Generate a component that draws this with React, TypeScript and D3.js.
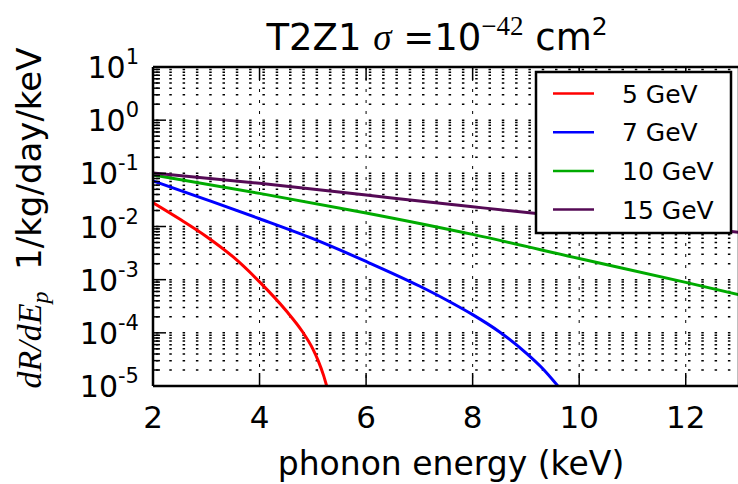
import React from 'react';
import * as d3 from 'd3';

const seriesLabels = ['5 GeV', '7 GeV', '10 GeV', '15 GeV'];
const seriesColors = ['#ff0000', '#0000ff', '#00aa00', '#550a55'];

const x5 = [2, 2.5, 3, 3.5, 4, 4.5, 4.8, 5.0, 5.1, 5.2, 5.26];
const y5 = [2.8e-2, 1.38e-2, 6.5e-3, 2.7e-3, 9.1e-4, 2.6e-4, 1.07e-4, 5.0e-5, 3.0e-5, 1.6e-5, 1.0e-5];

const x7 = [2, 3, 4, 5, 6, 7, 7.5, 8, 8.5, 9, 9.3, 9.6];
const y7 = [7.2e-2, 3.2e-2, 1.4e-2, 5.9e-3, 2.2e-3, 7.6e-4, 4.2e-4, 2.2e-4, 1.05e-4, 4.2e-5, 2.2e-5, 1.0e-5];

const x10 = [2, 4, 6, 8, 10, 12, 13];
const y10 = [9.3e-2, 4.2e-2, 1.8e-2, 7.1e-3, 2.5e-3, 8.9e-4, 5.2e-4];

const x15 = [2, 4, 6, 8, 10, 12, 13];
const y15 = [1.02e-1, 6.5e-2, 3.9e-2, 2.35e-2, 1.45e-2, 9.5e-3, 7.8e-3];

const seriesX = [x5, x7, x10, x15];
const seriesY = [y5, y7, y10, y15];

const xTickValues = [2, 4, 6, 8, 10, 12];
const yTickExponents = [1, 0, -1, -2, -3, -4, -5];

export default function App() {
  const W = 738, H = 484;
  const left = 153, right = 739, top = 67, bottom = 386;
  const x = d3.scaleLinear().domain([2, 13]).range([left, right]);
  const y = d3.scaleLog().domain([1e-5, 10]).range([bottom, top]);

  const minorVals: number[] = [];
  for (let k = -5; k <= 0; k++) {
    for (let m = 1; m <= 9; m++) {
      const v = m * Math.pow(10, k);
      if (k === -5 && m === 1) continue;
      minorVals.push(v);
    }
  }

  const line = d3.line<[number, number]>()
    .x(d => x(d[0]))
    .y(d => y(d[1]))
    .curve(d3.curveMonotoneX);

  const sans = 'DejaVu Sans';
  const serif = 'Liberation Serif';

  return (
    <svg width={W} height={H} style={{ position: 'absolute', left: 0, top: 0, background: '#fff' }}>
      <defs>
        <clipPath id="plotclip">
          <rect x={left} y={top} width={right - left} height={bottom - top} />
        </clipPath>
      </defs>
      <rect x={0} y={0} width={W} height={H} fill="#fff" />

      {/* horizontal dotted grid */}
      <g>
        {minorVals.map((v, i) => (
          <line key={i} x1={left} x2={right} y1={y(v)} y2={y(v)}
            stroke="#000" strokeWidth={1.5} strokeDasharray="2.5 10.8" strokeDashoffset={10.3} />
        ))}
      </g>
      {/* vertical grid */}
      <g>
        {xTickValues.filter(v => v > 2).map(v => (
          <line key={v} x1={x(v)} x2={x(v)} y1={top} y2={bottom}
            stroke="#000" strokeWidth={1} strokeDasharray="3 8" />
        ))}
      </g>

      {/* curves */}
      <g clipPath="url(#plotclip)">
        {seriesX.map((xs, i) => (
          <path key={i} d={line(xs.map((xv, j) => [xv, seriesY[i][j]] as [number, number])) || ''}
            fill="none" stroke={seriesColors[i]} strokeWidth={3} />
        ))}
      </g>

      {/* ticks */}
      <g stroke="#000">
        {xTickValues.map(v => (
          <g key={v}>
            <line x1={x(v)} x2={x(v)} y1={bottom} y2={bottom - 13} strokeWidth={1.5} />
            <line x1={x(v)} x2={x(v)} y1={top} y2={top + 13} strokeWidth={1.5} />
          </g>
        ))}
        {yTickExponents.map(e => (
          <line key={e} x1={left} x2={left + 13} y1={y(Math.pow(10, e))} y2={y(Math.pow(10, e))} strokeWidth={1.5} />
        ))}
        {minorVals.filter(v => Math.abs(Math.log10(v) - Math.round(Math.log10(v))) > 1e-6).map((v, i) => (
          <line key={'m' + i} x1={left} x2={left + 7} y1={y(v)} y2={y(v)} strokeWidth={1.5} />
        ))}
      </g>

      {/* frame */}
      <g stroke="#000" strokeWidth={2.5} fill="none">
        <line x1={left} x2={left} y1={top} y2={bottom} />
        <line x1={left} x2={right} y1={top} y2={top} />
        <line x1={left} x2={right} y1={bottom} y2={bottom} />
        <line x1={right} x2={right} y1={top} y2={bottom} />
      </g>

      {/* x tick labels */}
      <g fontFamily={sans} fontSize={31} fill="#000" textAnchor="middle">
        {xTickValues.map(v => (
          <text key={v} x={x(v)} y={428}>{v}</text>
        ))}
      </g>
      {/* y tick labels */}
      <g fontFamily={sans} fontSize={30} fill="#000">
        {yTickExponents.map(e => (
          <text key={e} x={139} y={y(Math.pow(10, e)) + 11} textAnchor="end">
            <tspan>10</tspan>
            <tspan dy={-14} fontSize={21}>{String(e)}</tspan>
          </text>
        ))}
      </g>

      {/* axis labels */}
      <text x={451} y={475} textAnchor="middle" fontFamily={sans} fontSize={33} fill="#000">
        phonon energy (keV)
      </text>
      <text transform={`translate(41,218) rotate(-90)`} textAnchor="middle" fontFamily={sans} fontSize={34} fill="#000">
        <tspan fontFamily={serif} fontStyle="italic">dR/dE</tspan>
        <tspan fontFamily={serif} fontStyle="italic" fontSize={24} dy={7}>p</tspan>
        <tspan dy={-7}>{'\u00a0\u00a01/kg/day/keV'}</tspan>
      </text>

      {/* title */}
      <text x={437} y={50} textAnchor="middle" fontFamily={sans} fontSize={37} fill="#000">
        <tspan>{'T2Z1\u00a0'}</tspan>
        <tspan fontFamily={serif} fontStyle="italic">σ</tspan>
        <tspan>{'\u00a0=10'}</tspan>
        <tspan dy={-15} fontSize={27} fontFamily={serif}>−42</tspan>
        <tspan dy={15}>{'\u00a0cm'}</tspan>
        <tspan dy={-15} fontSize={25}>2</tspan>
      </text>

      {/* legend */}
      <g>
        <rect x={536} y={72} width={195} height={161} fill="#fff" stroke="#000" strokeWidth={2.5} />
        {seriesLabels.map((lab, i) => {
          const ly = 93.5 + i * 38.7;
          return (
            <g key={lab}>
              <line x1={553} x2={594} y1={ly} y2={ly} stroke={seriesColors[i]} strokeWidth={2.5} />
              <text x={622} y={ly + 9} fontFamily={sans} fontSize={25} fill="#000">{lab}</text>
            </g>
          );
        })}
      </g>
    </svg>
  );
}
